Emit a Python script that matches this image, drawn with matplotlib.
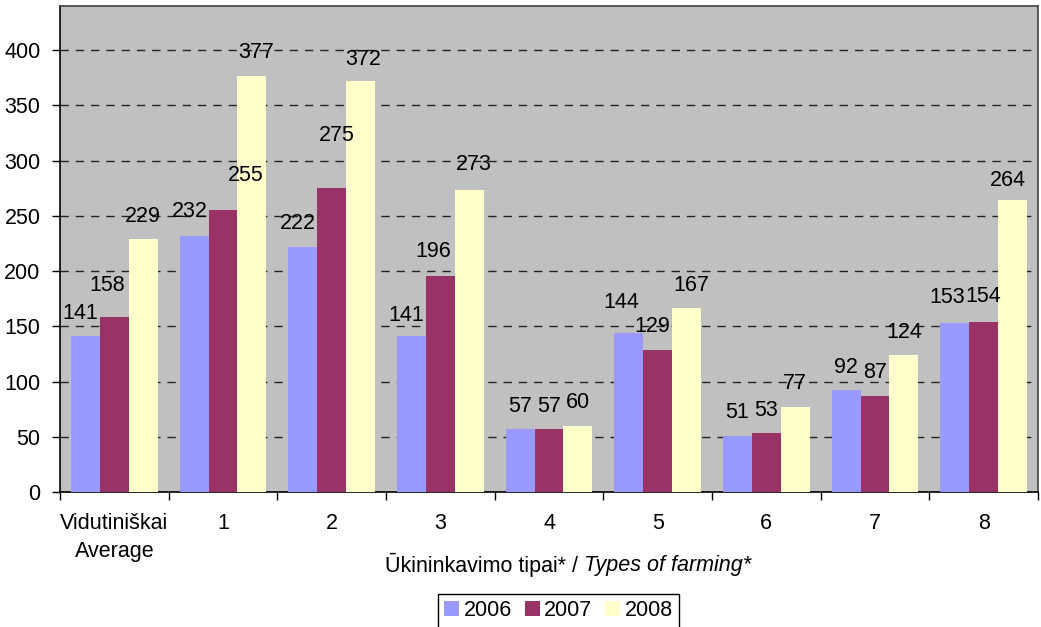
import numpy as np
import matplotlib
matplotlib.use('Agg')
import matplotlib.pyplot as plt

categories = ['Vidutiniškai\nAverage', '1', '2', '3', '4', '5', '6', '7', '8']
years = ['2006', '2007', '2008']
v2006 = [141, 232, 222, 141, 57, 144, 51, 92, 153]
v2007 = [158, 255, 275, 196, 57, 129, 53, 87, 154]
v2008 = [229, 377, 372, 273, 60, 167, 77, 124, 264]
colors = ['#9999FF', '#993366', '#FFFFCC']

# extra label shifts in pixels, (group, series) -> (dx, dy)
nudge = {(0, 0): (-5, 0), (0, 1): (-7, 9), (1, 0): (-4, 1), (1, 1): (23, 12),
         (1, 2): (4, 0), (2, 0): (-5, 0), (2, 1): (5, 30), (2, 2): (3, -1),
         (3, 0): (-5, -2), (3, 1): (-7, 1), (3, 2): (5, 3), (5, 0): (-7, 7),
         (5, 1): (-5, 0), (5, 2): (5, -1), (8, 0): (-8, 3), (8, 1): (0, 2),
         (8, 2): (-5, -3)}

plt.rcParams['font.family'] = ['Liberation Sans', 'DejaVu Sans']
fs = 15.5

fig = plt.figure(figsize=(10.41, 6.27), dpi=100)
ax = fig.add_axes([60/1041, 135/627, 978/1041, 486/627])
ax.set_facecolor('#C0C0C0')

x = np.arange(len(categories))
w = 0.8 / 3
handles = []
for i, (vals, c, yr) in enumerate(zip([v2006, v2007, v2008], colors, years)):
    pos = x - w + i * w
    b = ax.bar(pos, vals, w, color=c, label=yr, zorder=3, linewidth=0)
    handles.append(b)
    for j, v in enumerate(vals):
        dx, dy = nudge.get((j, i), (0, 0))
        ax.annotate(str(v), (pos[j], v), xytext=(dx, 23 + dy),
                    textcoords='offset pixels', ha='center', va='center',
                    fontsize=fs, zorder=4)

ax.set_xlim(-0.5, 8.5)
ax.set_ylim(0, 440)
ax.set_yticks(range(0, 401, 50))
ax.yaxis.grid(True, linestyle=(0, (6, 5)), color='#222222', lw=1, zorder=1)
ax.set_axisbelow(True)

ax.set_xticks(np.arange(-0.5, 9, 1))
ax.set_xticklabels([])
ax.set_xticks(x, minor=True)
ax.set_xticklabels(categories, minor=True, fontsize=fs)
for t in ax.get_xticklabels(minor=True):
    t.set_linespacing(1.45)
ax.tick_params(axis='x', which='major', length=6, direction='out', width=1)
ax.tick_params(axis='x', which='minor', length=0, pad=15)
ax.tick_params(axis='y', length=6, direction='out', width=1, pad=8, labelsize=fs)

for s in ['left', 'bottom']:
    ax.spines[s].set_color('black')
    ax.spines[s].set_linewidth(1.2)
for s in ['top', 'right']:
    ax.spines[s].set_color('#404040')
    ax.spines[s].set_linewidth(1.2)

ly = 1 - 565/627
fig.text(578/1041, ly, 'Ūkininkavimo tipai* /', ha='right', va='center', fontsize=fs)
fig.text(584/1041, ly, 'Types of farming*', ha='left', va='center', fontsize=fs, style='italic')

leg = fig.legend(handles=handles, labels=years, loc='upper center',
                 bbox_to_anchor=(558.5/1041, 1 - 594/627), ncol=3, fontsize=fs,
                 frameon=True, fancybox=False, edgecolor='black', framealpha=1,
                 handlelength=0.7, handleheight=0.7, handletextpad=0.2,
                 columnspacing=0.6, borderpad=0.3, borderaxespad=0)
leg.get_frame().set_linewidth(1)

fig.savefig('out.png', dpi=100)
